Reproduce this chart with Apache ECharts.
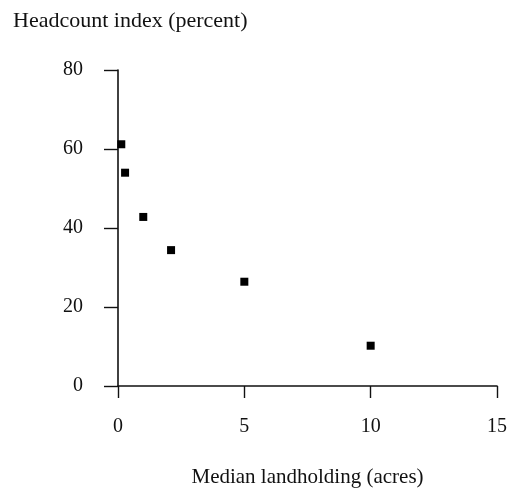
<!DOCTYPE html>
<html>
<head>
<meta charset="utf-8">
<script src="https://cdn.jsdelivr.net/npm/echarts@6/dist/echarts.min.js"></script>
<style>
  html, body { margin: 0; padding: 0; background: #fff; }
  #chart { width: 510px; height: 493px; }
</style>
</head>
<body>
<div id="chart"></div>
<script>
// Median landholding (acres) vs. headcount poverty index (percent)
var landholding = [0.13, 0.28, 1.0, 2.1, 5.0, 10.0];
var headcount = [61.2, 54.0, 42.8, 34.4, 26.4, 10.2];
var xTicks = [0, 5, 10, 15];
var yTicks = [0, 20, 40, 60, 80];

var FONT = '"Liberation Serif", "DejaVu Serif", serif';
var INK = '#111';

var points = landholding.map(function (x, i) { return [x, headcount[i]]; });

var chart = echarts.init(document.getElementById('chart'), null, { renderer: 'canvas' });
chart.setOption({
  animation: false,
  backgroundColor: '#fff',
  title: {
    text: 'Headcount index (percent)',
    left: 8,
    top: 5,
    textStyle: { fontFamily: FONT, fontSize: 22, fontWeight: 'normal', color: INK }
  },
  grid: { left: 118, right: 13, top: 70, bottom: 107, containLabel: false },
  xAxis: {
    type: 'value',
    min: xTicks[0],
    max: xTicks[xTicks.length - 1],
    interval: 5,
    name: 'Median landholding (acres)',
    nameLocation: 'middle',
    nameGap: 81,
    nameTextStyle: { fontFamily: FONT, fontSize: 21, color: INK },
    axisLine: { show: true, lineStyle: { color: INK, width: 1.6 } },
    axisTick: { show: true, inside: false, length: 12, lineStyle: { color: INK, width: 1.4 } },
    axisLabel: { margin: 31, fontFamily: FONT, fontSize: 20, color: INK },
    splitLine: { show: false }
  },
  yAxis: {
    type: 'value',
    min: yTicks[0],
    max: yTicks[yTicks.length - 1],
    interval: 20,
    axisLine: { show: true, lineStyle: { color: INK, width: 1.6 } },
    axisTick: { show: true, inside: false, length: 14, lineStyle: { color: INK, width: 1.4 } },
    axisLabel: { margin: 35, fontFamily: FONT, fontSize: 20, color: INK },
    splitLine: { show: false }
  },
  series: [{
    type: 'scatter',
    data: points,
    symbol: 'rect',
    symbolSize: 8,
    itemStyle: { color: '#000', opacity: 1 }
  }]
});
</script>
</body>
</html>
